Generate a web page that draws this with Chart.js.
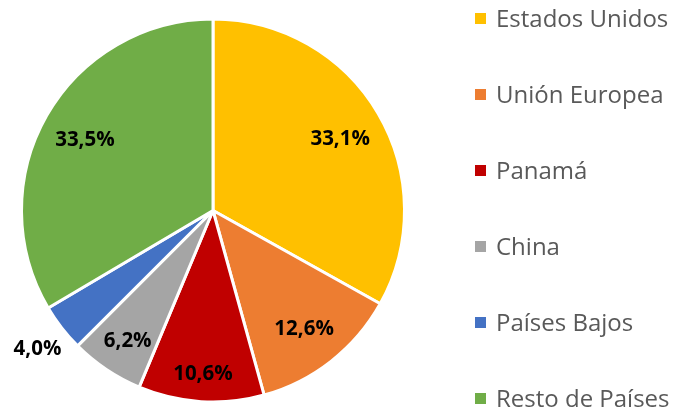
<!DOCTYPE html>
<html>
<head>
<meta charset="utf-8">
<script src="https://cdn.jsdelivr.net/npm/chart.js@4/dist/chart.umd.min.js"></script>
<style>
  html, body { margin: 0; padding: 0; background: #fff; }
  #wrap { width: 673px; height: 413px; }
</style>
</head>
<body>
<div id="wrap"><canvas id="pieChart"></canvas></div>
<script>
// Data
const countries = ['Estados Unidos', 'Unión Europea', 'Panamá', 'China', 'Países Bajos', 'Resto de Países'];
const shares = [33.1, 12.6, 10.6, 6.2, 4.0, 33.5];
const sliceColors = ['#FFC000', '#ED7D31', '#C00000', '#A5A5A5', '#4472C4', '#70AD47'];

// Percentage labels on each slice (radius as fraction of outer radius)
const sliceLabels = {
    id: 'sliceLabels',
    afterDatasetsDraw(chart, args, opts) {
        const ctx = chart.ctx;
        const meta = chart.getDatasetMeta(0);
        ctx.save();
        ctx.font = 'bold 20.5px "Open Sans"';
        ctx.fillStyle = '#000';
        ctx.textAlign = 'center';
        ctx.textBaseline = 'middle';
        meta.data.forEach((arc, i) => {
            const p = arc.getProps(['x', 'y', 'startAngle', 'endAngle', 'outerRadius'], true);
            const mid = (p.startAngle + p.endAngle) / 2;
            const f = opts.radius[i];
            const tx = p.x + Math.cos(mid) * p.outerRadius * f;
            const ty = p.y + Math.sin(mid) * p.outerRadius * f + 3;
            const txt = shares[i].toFixed(1).replace('.', ',') + '%';
            ctx.fillText(txt, tx, ty);
        });
        ctx.restore();
    }
};

// Legend drawn by hand so rows can spread over the full height
const sideLegend = {
    id: 'sideLegend',
    afterDraw(chart, args, opts) {
        const ctx = chart.ctx;
        const ds = chart.data.datasets[0];
        ctx.save();
        ctx.font = '24px "Open Sans"';
        ctx.textBaseline = 'middle';
        chart.data.labels.forEach((lbl, i) => {
            const y = opts.top + i * opts.step;
            ctx.fillStyle = ds.backgroundColor[i];
            ctx.fillRect(opts.x, y - 6, 11, 11);
            ctx.fillStyle = '#595959';
            ctx.fillText(lbl, opts.x + 21, y + 1);
        });
        ctx.restore();
    }
};

new Chart(document.getElementById('pieChart'), {
    type: 'pie',
    data: {
        labels: countries,
        datasets: [{
            data: shares,
            backgroundColor: sliceColors,
            borderColor: '#ffffff',
            borderWidth: 3
        }]
    },
    options: {
        responsive: true,
        maintainAspectRatio: false,
        animation: false,
        layout: {
            padding: { left: 20, right: 267, top: 17, bottom: 9 }
        },
        plugins: {
            legend: { display: false },
            tooltip: { enabled: false },
            sliceLabels: { radius: [0.77, 0.77, 0.84, 0.8, 1.16, 0.77] },
            sideLegend: { x: 475, top: 19, step: 76 }
        }
    },
    plugins: [sliceLabels, sideLegend]
});
</script>
</body>
</html>
